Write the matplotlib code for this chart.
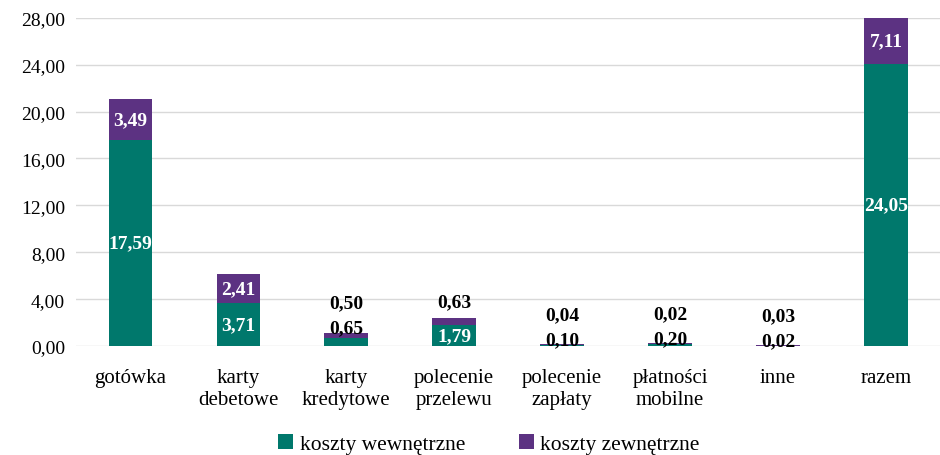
import numpy as np
import matplotlib.pyplot as plt
from matplotlib.ticker import FuncFormatter

categories = ['gotówka', 'karty\ndebetowe', 'karty\nkredytowe', 'polecenie\nprzelewu',
              'polecenie\nzapłaty', 'płatności\nmobilne', 'inne', 'razem']
internal = [17.59, 3.71, 0.65, 1.79, 0.10, 0.20, 0.02, 24.05]
external = [3.49, 2.41, 0.50, 0.63, 0.04, 0.02, 0.03, 7.11]
yticks = [0, 4, 8, 12, 16, 20, 24, 28]

teal = '#00786C'
purple = '#5C3282'
plt.rcParams['font.family'] = ['Liberation Serif', 'DejaVu Serif']

fig = plt.figure(figsize=(9.4, 4.56), dpi=100)
ax = fig.add_axes([0.081, 0.239, 0.919, 0.72])

x = np.arange(len(categories))
w = 0.4
ax.bar(x, internal, w, color=teal, label='koszty wewnętrzne', zorder=2)
ax.bar(x, external, w, bottom=internal, color=purple, label='koszty zewnętrzne', zorder=2)

ax.set_xlim(-0.5, len(categories) - 0.5)
ax.set_ylim(0, 28)
ax.set_yticks(yticks)
ax.yaxis.set_major_formatter(FuncFormatter(lambda v, p: f'{v:.2f}'.replace('.', ',')))
ax.set_xticks(x)
ax.set_xticklabels(categories, fontsize=15, linespacing=1.2)
ax.tick_params(axis='y', labelsize=14, length=0, pad=8)
ax.tick_params(axis='x', length=0, pad=16)
ax.grid(axis='y', color='#D9D9D9', linewidth=1, zorder=0)
for s in ax.spines.values():
    s.set_visible(False)

fmt = lambda v: f'{v:.2f}'.replace('.', ',')
fs = 14
for i in range(len(categories)):
    a, b = internal[i], external[i]
    top = min(a + b, 28)
    if a > 1.5:
        ax.text(i, a / 2, fmt(a), color='white', fontsize=fs, fontweight='bold',
                ha='center', va='center', zorder=3)
    else:
        ax.annotate(fmt(a), (i, a + b), xytext=(0, -3), textcoords='offset points',
                    ha='center', va='bottom', fontsize=fs, fontweight='bold', zorder=3)
    if b > 1.5:
        ax.text(i, (a + top) / 2, fmt(b), color='white', fontsize=fs, fontweight='bold',
                ha='center', va='center', zorder=3)
    elif a > 1.5:
        ax.annotate(fmt(b), (i, a + b), xytext=(0, 5), textcoords='offset points',
                    ha='center', va='bottom', fontsize=fs, fontweight='bold', zorder=3)
    else:
        ax.annotate(fmt(b), (i, a + b), xytext=(0, 15), textcoords='offset points',
                    ha='center', va='bottom', fontsize=fs, fontweight='bold', zorder=3)

fig.legend(loc='lower center', bbox_to_anchor=(0.52, -0.04), ncol=2, frameon=False,
           fontsize=15.5, handlelength=0.7, handleheight=0.7, handletextpad=0.3,
           columnspacing=2.5)

fig.savefig('out.png', dpi=100)
